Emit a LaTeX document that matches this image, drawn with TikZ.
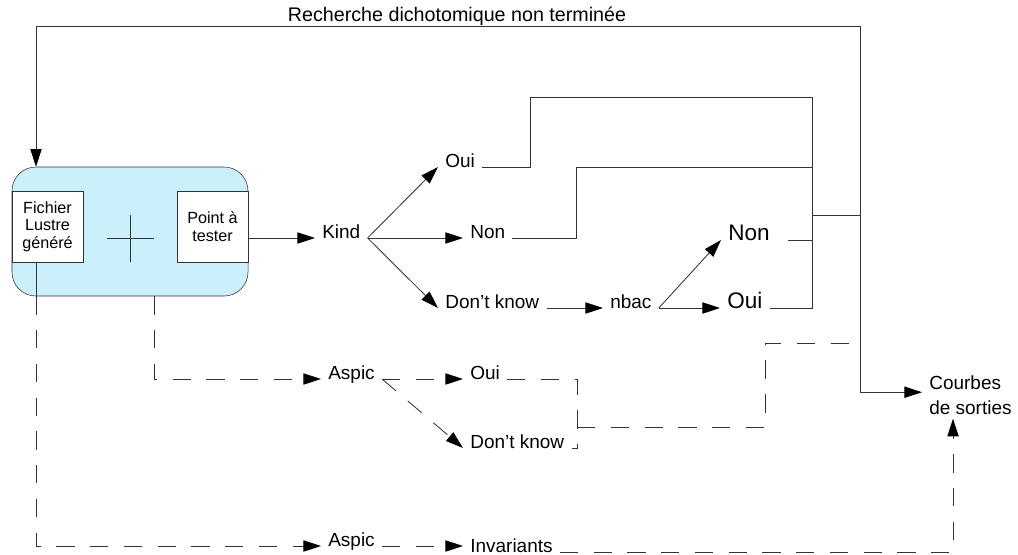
\documentclass[tikz,border=0pt]{standalone}
\usepackage{fontspec}
\setmainfont{Liberation Sans}
\usetikzlibrary{arrows.meta}

\tikzset{
  fleche/.style={-{Triangle[length=12.5pt,width=8pt,color=black]}},
  trait/.style={draw=black!80, line width=0.6pt},
  tirets/.style={dash pattern=on 13pt off 11pt},
  etiq/.style={inner xsep=5pt, inner ysep=0pt, anchor=base west, font=\fontsize{13.5}{17.5}\selectfont},
  grand/.style={etiq, font=\fontsize{16}{19}\selectfont},
  boite/.style={draw=black!80, fill=white, minimum width=1.775cm, minimum height=1.775cm,
    inner sep=1pt, align=center, font=\fontsize{11.5}{12.5}\selectfont},
}

\begin{document}
\begin{tikzpicture}[x=0.025cm, y=-0.025cm]
  \useasboundingbox (0,0) rectangle (1018,554);

  % outil de test
  \node[draw=black!80, fill=cyan!20, rounded corners=0.6cm, minimum width=5.9cm,
    minimum height=3.225cm] (outil) at (130,231.5) {};
  \node[boite] (lustre) at (47.5,226.5) {Fichier\\Lustre\\généré};
  \node[boite] (point) at (212.5,226.5) {Point à\\tester};
  \draw[trait] (107,238) -- (154,238) (130.5,215) -- (130.5,262);

  % etiquettes
  \node[anchor=base, font=\fontsize{14}{16}\selectfont] (titre) at (457,21) {Recherche dichotomique non terminée};
  \node[etiq] (kind) at (315,238) {Kind};
  \node[etiq] (oui1) at (438,167) {Oui};
  \node[etiq] (non1) at (463,238) {Non};
  \node[etiq] (dk1) at (438,308) {Don't know};
  \node[etiq] (nbac) at (603,308) {nbac};
  \node[grand] (non2) at (721,240) {Non};
  \node[grand] (oui2) at (720,308) {Oui};
  \node[etiq] (aspicm) at (321,379) {Aspic};
  \node[etiq] (oui3) at (463,379) {Oui};
  \node[etiq] (dk3) at (463,448) {Don't know};
  \node[etiq] (aspicb) at (321,546) {Aspic};
  \node[etiq] (inv) at (463,552) {Invariants};
  \node[etiq, align=left, inner ysep=3pt] (courbes) at (922,414) {Courbes\\de sorties};

  \coordinate (hautg) at (36,26);
  \coordinate (hautd) at (860,26);
  \coordinate (gauche) at (36,546);
  \coordinate (milieu) at (154,379);
  \coordinate (bd) at (953,552);
  \coordinate (entree) at ([yshift=15.5pt]courbes.base west);

  % boucle et sortie
  \draw[trait, fleche] (hautd) -- (hautg) -- (hautg |- outil.north);
  \draw[trait, fleche] (hautd) -- (hautd |- entree) -- (entree);

  % branche Kind
  \draw[trait, fleche] (point.east |- kind.base) -- (kind.base west);
  \draw[trait, fleche] (kind.base east) -- (oui1.base west);
  \draw[trait, fleche] (kind.base east) -- (non1.base west);
  \draw[trait, fleche] (kind.base east) -- (dk1.base west);
  \draw[trait, fleche] (dk1.base east) -- (nbac.base west);
  \draw[trait, fleche] (nbac.base east) -- (non2.base west);
  \draw[trait, fleche] (nbac.base east) -- (oui2.base west);
  \draw[trait] (oui1.base east) -- (530,167) -- (530,97) -- (812,97) -- (812,308) -- (oui2.base east);
  \draw[trait] (non1.base east) -- (576,238) -- (576,167) -- (812,167);
  \draw[trait] ([xshift=8pt]non2.base east) -- (812,240);
  \draw[trait] (812,215) -- (860,215);

  % branche Aspic
  \draw[trait, tirets, fleche] (milieu |- outil.south) -- (milieu) -- (aspicm.base west);
  \draw[trait, tirets, fleche] (aspicm.base east) -- (oui3.base west);
  \draw[trait, tirets, fleche] (aspicm.base east) -- (dk3.base west);
  \draw[trait, tirets] (oui3.base east) -- (577,379) -- (577,448) -- (dk3.base east);
  \draw[trait, tirets] (577,427) -- (765,427) -- (765,343) -- (860,343);

  % invariants
  \draw[trait] (gauche |- lustre.south) -- (gauche |- outil.south);
  \draw[trait, tirets, fleche] (gauche |- outil.south) -- (gauche) -- (aspicb.base west);
  \draw[trait, tirets, fleche] (aspicb.base east) -- (aspicb.base east -| inv.west);
  \draw[trait, tirets, fleche] (inv.base east) -- (bd) -- (bd |- courbes.south);
\end{tikzpicture}
\end{document}
